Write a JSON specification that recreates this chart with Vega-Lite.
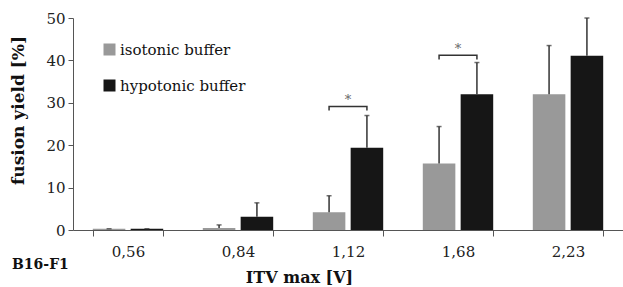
{
  "$schema": "https://vega.github.io/schema/vega-lite/v6.json",
  "width": 550,
  "height": 212,
  "autosize": {"type": "none"},
  "padding": {"left": 73, "top": 18, "right": 0, "bottom": 57},
  "config": {"font": "DejaVu Serif", "view": {"stroke": null}},
  "title": {"text": "B16-F1", "orient": "bottom", "anchor": "start", "frame": "group", "dx": -61, "offset": -27, "baseline": "top", "fontSize": 14, "fontWeight": "bold", "font": "DejaVu Serif", "color": "#111"},
  "data": {"values": [
    {"cat": "0,56", "buffer": "isotonic buffer", "value": 0.3, "upper": 0.3},
    {"cat": "0,56", "buffer": "hypotonic buffer", "value": 0.3, "upper": 0.3},
    {"cat": "0,84", "buffer": "isotonic buffer", "value": 0.5, "upper": 1.2},
    {"cat": "0,84", "buffer": "hypotonic buffer", "value": 3.1, "upper": 6.4},
    {"cat": "1,12", "buffer": "isotonic buffer", "value": 4.2, "upper": 8.1},
    {"cat": "1,12", "buffer": "hypotonic buffer", "value": 19.4, "upper": 27.0},
    {"cat": "1,68", "buffer": "isotonic buffer", "value": 15.7, "upper": 24.4},
    {"cat": "1,68", "buffer": "hypotonic buffer", "value": 32.0, "upper": 39.5},
    {"cat": "2,23", "buffer": "isotonic buffer", "value": 32.0, "upper": 43.5},
    {"cat": "2,23", "buffer": "hypotonic buffer", "value": 41.1, "upper": 50.0}
  ]},
  "encoding": {
    "x": {"field": "cat", "type": "nominal", "sort": null,
      "scale": {"paddingInner": 0.36, "paddingOuter": 0.18},
      "axis": {"title": "ITV max [V]", "labelAngle": 0, "tickBand": "extent", "tickSize": 6, "domainColor": "#555", "tickColor": "#555", "labelFontSize": 15, "labelColor": "#222", "labelFont": "DejaVu Serif", "labelPadding": 8, "titleFont": "DejaVu Serif", "titleFontSize": 16, "titleFontWeight": "bold", "titleColor": "#111", "titleX": 226, "titleY": 52, "titleAlign": "center", "titleBaseline": "alphabetic"}}
  },
  "layer": [
    {
      "mark": {"type": "bar"},
      "encoding": {
        "xOffset": {"field": "buffer", "type": "nominal", "sort": ["isotonic buffer", "hypotonic buffer"], "scale": {"paddingInner": 0.14}},
        "y": {"field": "value", "type": "quantitative", "scale": {"domain": [0, 50], "nice": false},
          "axis": {"title": "fusion yield [%]", "values": [0, 10, 20, 30, 40, 50], "grid": false, "tickSize": 5, "domainColor": "#555", "tickColor": "#555", "labelFontSize": 15, "labelColor": "#222", "labelFont": "DejaVu Serif", "labelPadding": 3, "titleFont": "DejaVu Serif", "titleFontSize": 17, "titleFontWeight": "bold", "titleColor": "#111", "titleX": -55, "titleY": 92, "titleAlign": "center", "titleBaseline": "middle", "titleAngle": -90}},
        "color": {"field": "buffer", "type": "nominal", "sort": ["isotonic buffer", "hypotonic buffer"],
          "scale": {"domain": ["isotonic buffer", "hypotonic buffer"], "range": ["#999999", "#161616"]},
          "legend": {"orient": "none", "legendX": 29, "legendY": 24, "title": null, "symbolType": "square", "symbolSize": 144, "symbolStrokeWidth": 0, "labelFontSize": 15, "labelFont": "DejaVu Serif", "labelColor": "#111", "labelOffset": 3, "rowPadding": 20}}
      }
    },
    {
      "mark": {"type": "rule", "color": "#333", "strokeWidth": 1.5},
      "encoding": {"xOffset": {"field": "buffer", "type": "nominal", "sort": ["isotonic buffer", "hypotonic buffer"]}, "y": {"field": "value", "type": "quantitative"}, "y2": {"field": "upper"}}
    },
    {
      "mark": {"type": "tick", "color": "#333", "thickness": 1.5, "size": 5},
      "encoding": {"xOffset": {"field": "buffer", "type": "nominal", "sort": ["isotonic buffer", "hypotonic buffer"]}, "y": {"field": "upper", "type": "quantitative"}}
    },
    {
      "data": {"values": [
        {"cat": "1,12", "buffer": "isotonic buffer", "y": 28.2, "ord": 1},
        {"cat": "1,12", "buffer": "isotonic buffer", "y": 29.1, "ord": 2},
        {"cat": "1,12", "buffer": "hypotonic buffer", "y": 29.1, "ord": 3},
        {"cat": "1,12", "buffer": "hypotonic buffer", "y": 28.2, "ord": 4},
        {"cat": "1,68", "buffer": "isotonic buffer", "y": 40.2, "ord": 1},
        {"cat": "1,68", "buffer": "isotonic buffer", "y": 41.2, "ord": 2},
        {"cat": "1,68", "buffer": "hypotonic buffer", "y": 41.2, "ord": 3},
        {"cat": "1,68", "buffer": "hypotonic buffer", "y": 40.2, "ord": 4}
      ]},
      "mark": {"type": "line", "color": "#333", "strokeWidth": 1.5},
      "encoding": {"xOffset": {"field": "buffer", "type": "nominal", "sort": ["isotonic buffer", "hypotonic buffer"]}, "y": {"field": "y", "type": "quantitative"}, "detail": {"field": "cat"}, "order": {"field": "ord"}}
    },
    {
      "data": {"values": [
        {"cat": "1,12", "y": 30.7, "label": "*"},
        {"cat": "1,68", "y": 42.7, "label": "*"}
      ]},
      "mark": {"type": "text", "fontSize": 13, "color": "#666", "baseline": "middle"},
      "encoding": {"y": {"field": "y", "type": "quantitative"}, "text": {"field": "label"}}
    }
  ]
}
